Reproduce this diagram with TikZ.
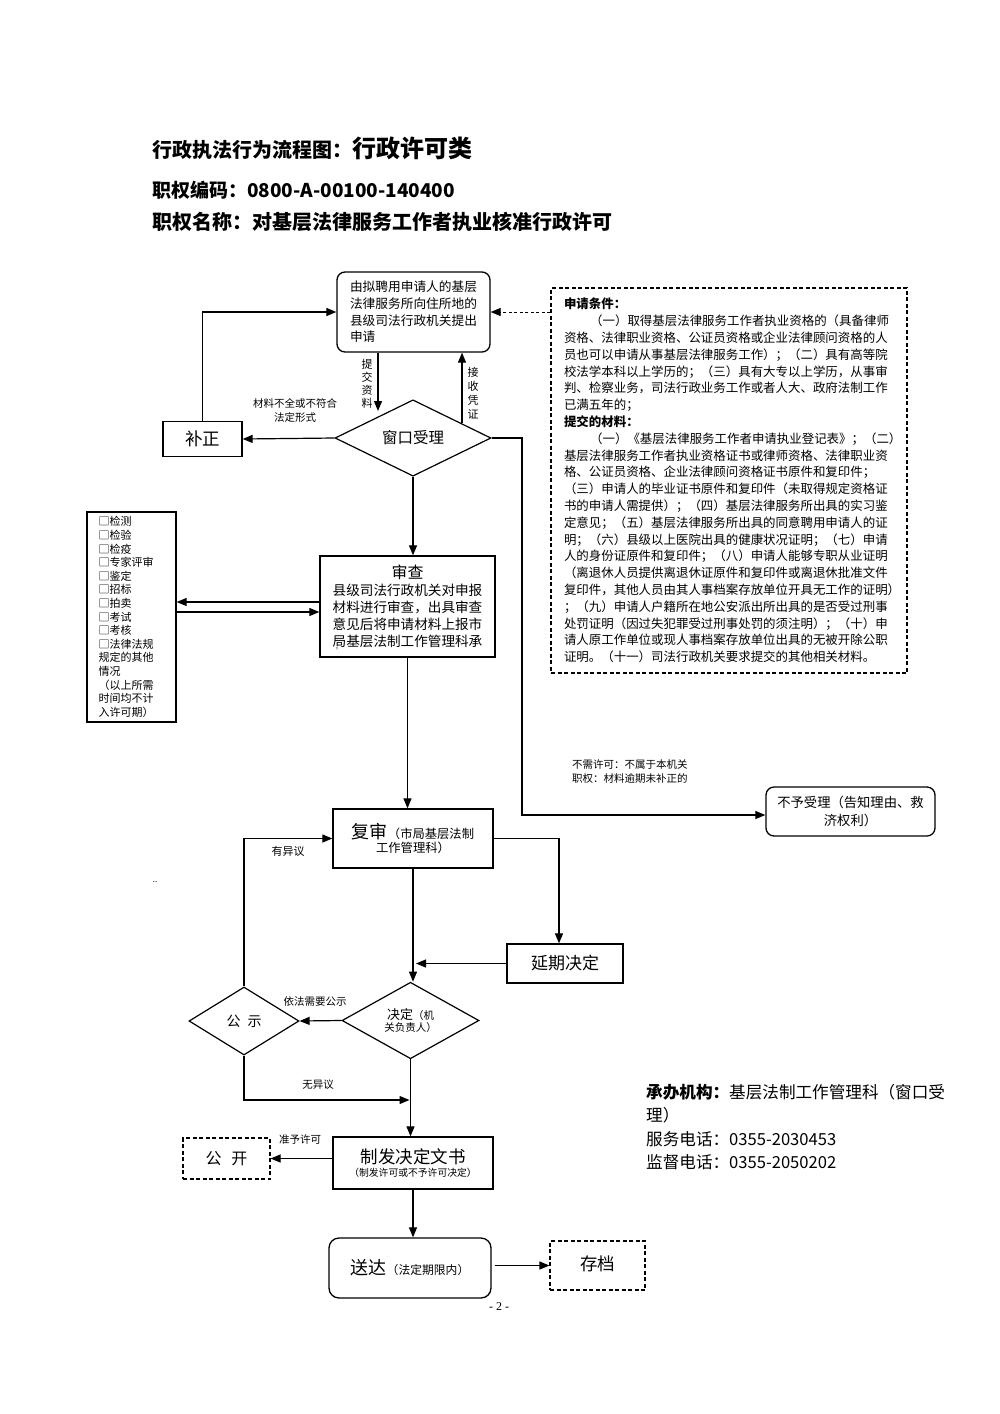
\documentclass[tikz,border=0pt]{standalone}
\usepackage{fontspec}
\setmainfont{Noto Sans CJK SC}
\newfontfamily\pagefont{Liberation Serif}
\usetikzlibrary{shapes.geometric,arrows.meta}
\newcommand\myfs[2]{\fontsize{#1}{#2}\selectfont}
\newcommand\cbx{\makebox[1em][l]{□}}
\begin{document}
\begin{tikzpicture}[x=1pt,y=-1pt,
  box/.style={draw, line width=1.3pt, inner sep=0pt, align=center},
  rbox/.style={box, rounded corners=8pt},
  dbox/.style={draw, line width=1.2pt, dash pattern=on 4pt off 2.5pt, inner sep=0pt, align=center},
  dia/.style={draw, diamond, line width=1.2pt, inner sep=0pt, align=center},
  arr/.style={line width=1.2pt, -{Triangle[length=10pt,width=8pt]}},
  lbl/.style={inner sep=0pt, align=center, font=\myfs{10.5}{14}},
  title/.style={inner sep=0pt, anchor=west, font=\bfseries\myfs{20}{22}}
]
\useasboundingbox (0,0) rectangle (1000,1414);

% titles
\node[title] (t1) at (152,148) {行政执法行为流程图：{\myfs{24}{26}行政许可类}};
\node[title, font=\bfseries\myfs{19}{22}] (t2) at (152,190) {职权编码：0800-A-00100-140400};
\node[title] (t3) at (152,222) {职权名称：对基层法律服务工作者执业核准行政许可};

% top box
\node[rbox, minimum width=153, minimum height=80, align=left, font=\myfs{12.7}{16.6}] (apply) at (413.5,312)
 {由拟聘用申请人的基层\\法律服务所向住所地的\\县级司法行政机关提出\\申请};

% window diamond
\node[dia, minimum width=156, minimum height=62, font=\myfs{15.5}{18}] (win) at (413,438) {窗口受理};

% correction
\node[box, minimum width=79, minimum height=35, font=\myfs{17.5}{20}] (fix) at (202.5,439) {补正};

% dashed conditions box
\node[dbox, minimum width=356, minimum height=385, text width=330, align=left, font=\myfs{12.45}{16.8}] (cond) at (729,480.5)
{{\bfseries 申请条件：}\\
\hspace*{2.1em}（一）取得基层法律服务工作者执业资格的（具备律师\\
资格、法律职业资格、公证员资格或企业法律顾问资格的人\\
员也可以申请从事基层法律服务工作）；（二）具有高等院\\
校法学本科以上学历的；（三）具有大专以上学历，从事审\\
判、检察业务，司法行政业务工作或者人大、政府法制工作\\
已满五年的；\\
{\bfseries 提交的材料：}\\
\hspace*{2.1em}（一）《基层法律服务工作者申请执业登记表》；（二）\\
基层法律服务工作者执业资格证书或律师资格、法律职业资\\
格、公证员资格、企业法律顾问资格证书原件和复印件；\\
（三）申请人的毕业证书原件和复印件（未取得规定资格证\\
书的申请人需提供）；（四）基层法律服务所出具的实习鉴\\
定意见；（五）基层法律服务所出具的同意聘用申请人的证\\
明；（六）县级以上医院出具的健康状况证明；（七）申请\\
人的身份证原件和复印件；（八）申请人能够专职从业证明\\
（离退休人员提供离退休证原件和复印件或离退休批准文件\\
复印件，其他人员由其人事档案存放单位开具无工作的证明）\\
；（九）申请人户籍所在地公安派出所出具的是否受过刑事\\
处罚证明（因过失犯罪受过刑事处罚的须注明）；（十）申\\
请人原工作单位或现人事档案存放单位出具的无被开除公职\\
证明。（十一）司法行政机关要求提交的其他相关材料。};

% checklist
\node[box, minimum width=89, minimum height=210, text width=66, align=left, font=\myfs{11}{13.6}] (check) at (131.5,617)
{\cbx 检测\\\cbx 检验\\\cbx 检疫\\\cbx 专家评审\\\cbx 鉴定\\\cbx 招标\\\cbx 拍卖\\\cbx 考试\\\cbx 考核\\\cbx 法律法规\\规定的其他\\情况\\（以上所需\\时间均不计\\入许可期）};

% review
\node[box, minimum width=175, minimum height=101, font=\myfs{13.6}{17}] (review) at (407.5,606.5)
{{\myfs{16}{19}审查}\\县级司法行政机关对申报\\材料进行审查，出具审查\\意见后将申请材料上报市\\局基层法制工作管理科承};
\node[inner sep=0pt, font=\myfs{8}{9}] (tick) at (340,651) {'};

% reject
\node[rbox, minimum width=169, minimum height=49, font=\myfs{13.3}{18}] (reject) at (850.5,811.5)
{不予受理（告知理由、救\\济权利）};

% recheck
\node[box, minimum width=160, minimum height=59] (recheck) at (413,838.5)
{{\myfs{18}{21}复审}{\myfs{12.3}{15}（市局基层法制}\\[2pt]{\myfs{12.3}{15}工作管理科）}};

% delay
\node[box, minimum width=116, minimum height=39, font=\myfs{17}{20}] (delay) at (565,963.5) {延期决定};

% decision diamond
\node[dia, minimum width=137, minimum height=65] (dec) at (410.5,1020.5)
{{\myfs{13}{15}决定}{\myfs{10.5}{15}（机}\\{\myfs{10.5}{13}关负责人）}};

% publicity diamond
\node[dia, minimum width=110, minimum height=68, font=\myfs{14}{16}] (pub) at (244,1021) {公\hspace{0.5em}示};

% issue document
\node[box, minimum width=160, minimum height=52] (issue) at (413,1163)
{{\myfs{17.5}{20}制发决定文书}\\[1pt]{\myfs{9.8}{12}（制发许可或不予许可决定）}};

% open
\node[dbox, minimum width=87, minimum height=41, font=\myfs{16}{18}] (open) at (226.5,1158.5) {公\hspace{0.6em}开};

% deliver
\node[rbox, rounded corners=10pt, minimum width=162, minimum height=60] (deliver) at (410,1268)
{{\myfs{18}{20}送达}{\myfs{11.8}{14}（法定期限内）}};

% archive
\node[dbox, minimum width=95, minimum height=49, font=\myfs{17.5}{20}] (archive) at (597.5,1265.5) {\raisebox{5pt}{存档}};

% labels
\node[lbl, font=\myfs{11}{13.2}] (lsub) at (367,384) {提\\交\\资\\料};
\node[lbl, font=\myfs{11}{14}] (lrec) at (473,393) {接\\收\\凭\\证};
\node[lbl] (lfix) at (295,410) {材料不全或不符合\\法定形式};
\node[lbl, align=left, anchor=west] (lrej) at (572,772) {不需许可：不属于本机关\\职权：材料逾期未补正的};
\node[lbl, font=\myfs{11}{13}] (lobj) at (288,851) {有异议};
\node[lbl, font=\myfs{8}{9}] (dots) at (155,882) {..};
\node[lbl] (lneed) at (315,1002) {依法需要公示};
\node[lbl] (lnoobj) at (318,1085) {无异议};
\node[lbl] (lgrant) at (300,1139) {准予许可};
\node[inner sep=0pt, font=\pagefont\myfs{12}{14}] (page) at (499,1307) {- 2 -};

% contact info
\node[inner sep=0pt, anchor=north west, align=left, font=\myfs{16.6}{23.3}] (info) at (646,1084)
{{\bfseries 承办机构：}基层法制工作管理科（窗口受\\理）\\服务电话：0355-2030453\\监督电话：0355-2050202};

% connectors
\coordinate (subx) at (378,0);
\coordinate (recx) at (462,0);
\draw[arr] (apply.south -| subx) -- (subx |- 0,411);
\draw[arr] (recx |- 0,423) -- (apply.south -| recx);
\draw[arr] (win.west) -- (fix.east);
\draw[arr] (fix.north) |- (apply.west);
\draw[arr, dash pattern=on 3pt off 2.5pt, line width=0.8pt] (cond.west |- apply.east) -- (apply.east);
\coordinate (rbend) at (522,815);
\draw[arr] (win.east) -| (rbend) -- (reject.west |- rbend);
\draw[arr] (win.south) -- (win.south |- review.north);
\draw[arr] (review.west |- 0,602) -- (check.east |- 0,602);
\draw[arr] (check.east |- 0,612) -- (review.west |- 0,612);
\draw[arr] (review.south) -- (review.south |- recheck.north);
\draw[arr] (recheck.east) -| ([xshift=-6pt]delay.north);
\draw[arr] (recheck.south) -- (recheck.south |- dec.north);
\draw[arr] (delay.west) -- ([xshift=3pt]recheck.south |- delay.west);
\draw[arr] (dec.west) -- (pub.east);
\draw[arr] (pub.north) |- (recheck.west);
\draw[arr] (pub.south) |- ([xshift=-1pt]dec.south |- 0,1100);
\draw[arr] (dec.south) -- (dec.south |- issue.north);
\draw[arr] (issue.west |- open.east) -- (open.east);
\draw[arr] (issue.south) -- (issue.south |- deliver.north);
\draw[arr] ([xshift=3pt]deliver.east |- archive.west) -- (archive.west);
\end{tikzpicture}
\end{document}
